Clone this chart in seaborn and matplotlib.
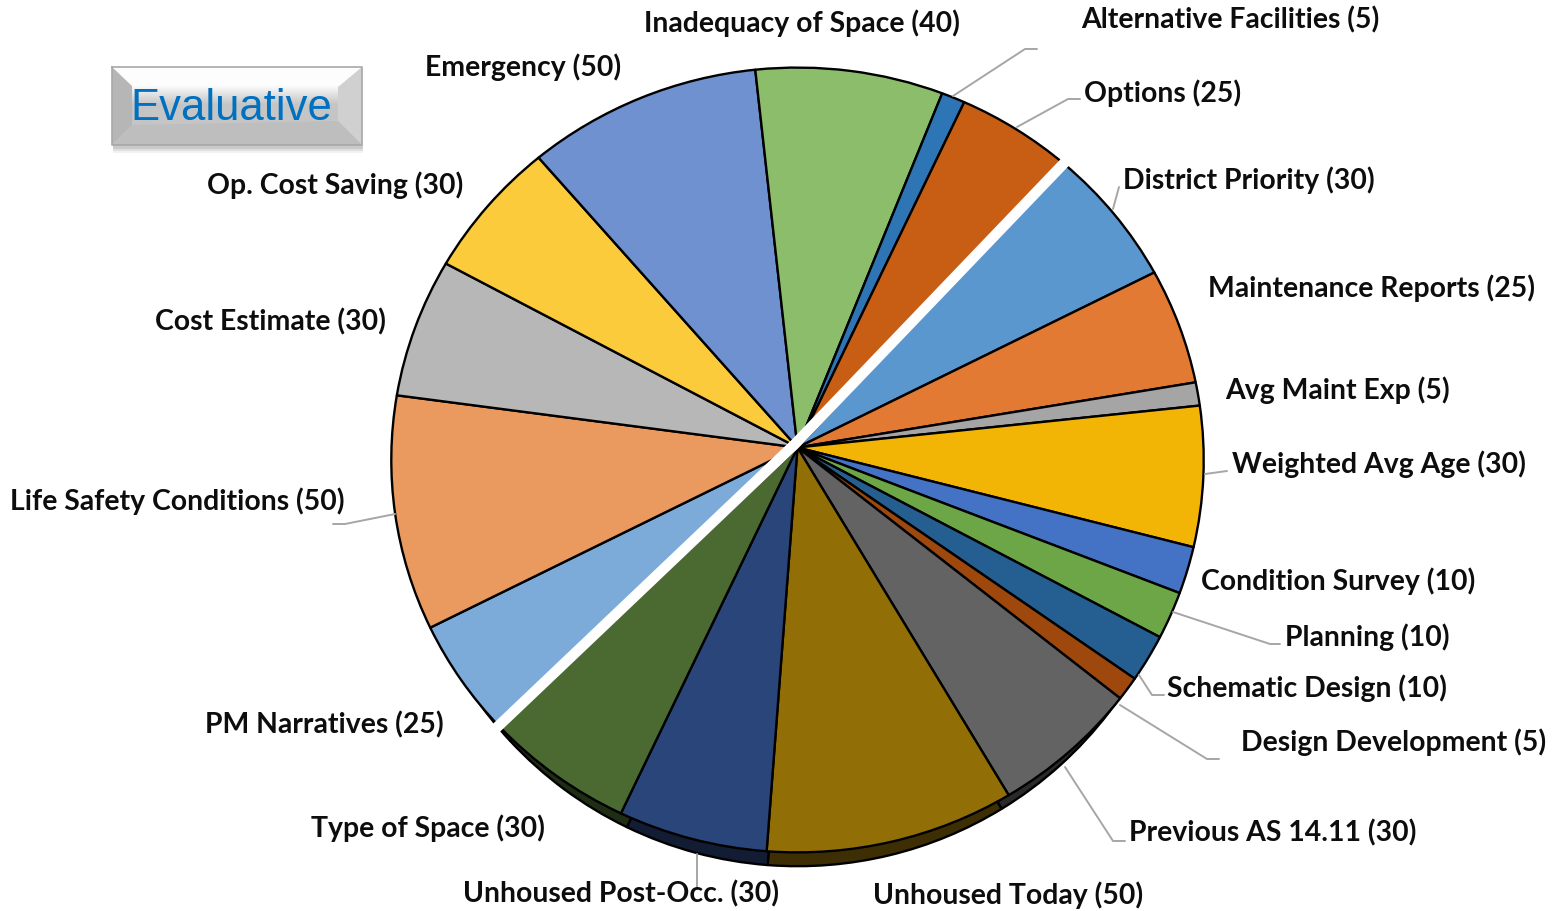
import numpy as np
import matplotlib
matplotlib.use("Agg")
import matplotlib.pyplot as plt
from matplotlib.transforms import Transform
import seaborn as sns

# ---------- data (clockwise from the white divider) ----------
names = ["District Priority", "Maintenance Reports", "Avg Maint Exp", "Weighted Avg Age",
         "Condition Survey", "Planning", "Schematic Design", "Design Development",
         "Previous AS 14.11", "Unhoused Today", "Unhoused Post-Occ.", "Type of Space",
         "PM Narratives", "Life Safety Conditions", "Cost Estimate", "Op. Cost Saving",
         "Emergency", "Inadequacy of Space", "Alternative Facilities", "Options"]
values = [30, 25, 5, 30, 10, 10, 10, 5, 30, 50, 30, 30,
          25, 50, 30, 30, 50, 40, 5, 25]
colors = ["#5B97CF", "#E27A33", "#A5A5A5", "#F3B505", "#4472C4", "#6DA647",
          "#255E91", "#9E480E", "#636363", "#926F06", "#2A4579", "#4A6A32",
          "#7CABDA", "#EA9A5F", "#B7B7B7", "#FBCB3C", "#6F91D0", "#8CBD6A", "#2E75B6", "#C85E14"]

badge_title = "Evaluative"

# ---------- layout (pixels) ----------
label_pos = {
    "District Priority": (1123, 180), "Maintenance Reports": (1208, 288), "Avg Maint Exp": (1225, 390),
    "Weighted Avg Age": (1232, 464), "Condition Survey": (1201, 581), "Planning": (1285, 637),
    "Schematic Design": (1167, 688), "Design Development": (1241, 742), "Previous AS 14.11": (1129, 833),
    "Unhoused Today": (873, 895), "Unhoused Post-Occ.": (463, 894), "Type of Space": (311, 828),
    "PM Narratives": (205, 725), "Life Safety Conditions": (10, 501), "Cost Estimate": (155, 322),
    "Op. Cost Saving": (207, 185), "Emergency": (425, 67), "Inadequacy of Space": (644, 23),
    "Alternative Facilities": (1081, 20), "Options": (1084, 93),
}
leaders = [
    ([953, 1025, 1037], [97, 50, 50]),
    ([1017, 1068, 1080], [128, 100, 100]),
    ([1113, 1119], [210, 188]),
    ([1205, 1227], [475, 472]),
    ([1173, 1270, 1280], [613, 645, 645]),
    ([1139, 1152, 1164], [676, 696, 696]),
    ([1120, 1207, 1219], [706, 760, 760]),
    ([1065, 1113, 1125], [768, 842, 842]),
    ([697, 697], [855, 890]),
    ([395, 345, 333], [515, 525, 525]),
]
divider_x = [1069, 795, 491]
divider_y = [159, 445, 734]

OX, OY = 797.5, 448.5     # pie hub in pixels
A, B, C = 392.0, 0.0318, 406.0  # tilt of the pie


class Tilt(Transform):
    """Perspective view of the unit-circle pie, in figure pixels."""
    input_dims = output_dims = 2
    is_separable = False
    has_inverse = False

    def __init__(self, sx=1.0, sy=1.0, drop=0.0):
        super().__init__()
        self.sx, self.sy, self.drop = sx, sy, drop

    def transform_non_affine(self, v):
        v = np.asarray(v, dtype=float)
        x = v[:, 0] * self.sx
        y = v[:, 1] * self.sy - self.drop
        w = 1 + B * y
        return np.column_stack([OX + C * x / w, OY - A * y / w])


sns.set_theme(style="white")
plt.rcParams["font.family"] = ["Lato", "DejaVu Sans"]

fig = plt.figure(figsize=(15.57, 9.12), dpi=100, facecolor="white")
ax = fig.add_axes([0, 0, 1, 1])

pal = sns.color_palette(colors)
dark = [tuple(np.array(c) * 0.42) for c in pal]
edge = dict(edgecolor="black", linewidth=1.7, linestyle="-", joinstyle="round")


def draw(cols, tilt, z):
    wedges, _ = ax.pie(values, colors=cols, startangle=47.7, counterclock=False, wedgeprops=edge)
    for w in wedges:
        w.set_transform(tilt + ax.transData)
        w.set_zorder(z)


draw(dark, Tilt(0.965, 0.999, 0.034), 1)   # dark side of the disc
draw(pal, Tilt(), 2)                       # top of the disc

ax.set_aspect("auto")
ax.set_axis_off()

# white divider laid over the pie
ax.plot(divider_x, divider_y, color="white", lw=7.6, zorder=3, solid_capstyle="butt",
        solid_joinstyle="miter")

# leader lines
for xs, ys in leaders:
    ax.plot(xs, ys, color="#A6A6A6", lw=1.4, zorder=3, solid_joinstyle="round")

# labels
for name, val in zip(names, values):
    x, y = label_pos[name]
    ax.text(x, y, f"{name} ({val})", ha="left", va="center", fontsize=20.4, fontweight="bold",
            color="#0D0D0D", zorder=4)

# bevelled badge
L, R, T, Bt = 112, 362, 68, 146
for k, al in enumerate([0.10, 0.16, 0.22]):
    ax.fill([L + 1, R + 1, R + 1, L + 1], [Bt, Bt, Bt + 8 - 2 * k, Bt + 8 - 2 * k],
            color="#808080", alpha=al, lw=0, zorder=5)
grad = np.concatenate([np.full(18, 0.99), np.linspace(0.99, 0.77, 20), np.full(40, 0.77)])[:, None]
ax.imshow(grad, extent=(L, R, Bt, T), cmap="gray", vmin=0, vmax=1, aspect="auto", zorder=5,
          interpolation="bilinear")
ax.fill([L, 132, 132, L], [T, 87, 126, Bt], color="#B6B6B6", lw=0, zorder=6)
ax.fill([R, 338, 338, R], [T, 88, 122, Bt], color="#D0D0D0", lw=0, zorder=6)
ax.fill([L, R, 338, 132], [Bt, Bt, 122, 126], color="#BEBEBE", lw=0, zorder=6)
ax.plot([L, R, R, L, L], [T, T, Bt, Bt, T], color="#A8A8A8", lw=1.2, zorder=7)
ax.text(231.5, 109, badge_title, ha="center", va="center", fontsize=31.4, color="#0070C0",
        family="Liberation Sans", zorder=8)
ax.set_xlim(0, 1557)
ax.set_ylim(912, 0)
ax.set_aspect("auto")

fig.savefig("out.png", dpi=100, facecolor="white")
